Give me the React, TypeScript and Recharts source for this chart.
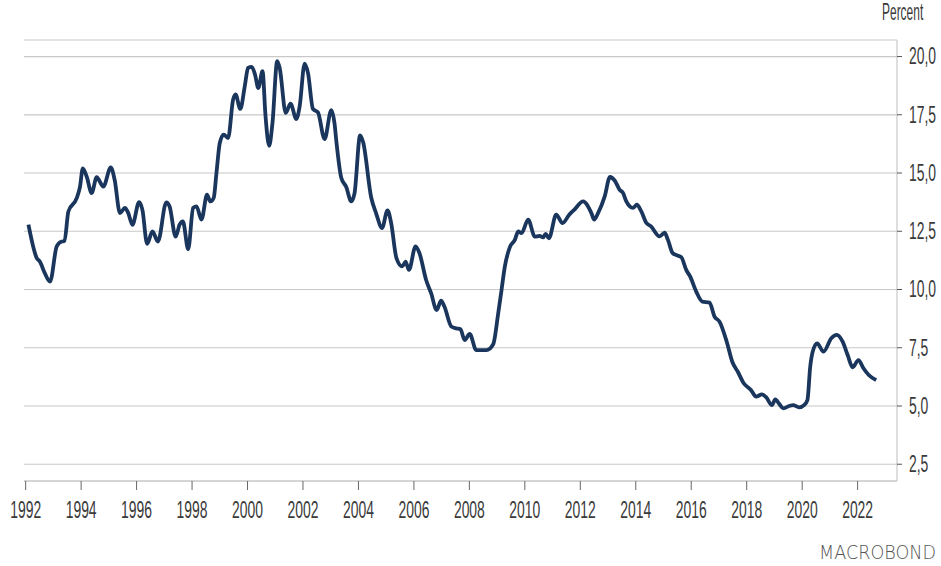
import { LineChart, Line, XAxis, YAxis, CartesianGrid } from 'recharts';

// decimal years and rate in percent
const years = [
  1992.1, 1992.4, 1992.51, 1992.69, 1992.88, 1993.12, 1993.3, 1993.4, 1993.54, 1993.84,
  1993.96, 1994.06, 1994.2, 1994.38, 1994.56, 1994.8, 1995.07, 1995.21, 1995.4, 1995.58,
  1995.7, 1995.85, 1996.09, 1996.21, 1996.38, 1996.57, 1996.77, 1997.07, 1997.19, 1997.41,
  1997.55, 1997.67, 1997.86, 1998.04, 1998.16, 1998.34, 1998.54, 1998.66, 1998.78, 1998.88,
  1999.0, 1999.14, 1999.3, 1999.48, 1999.57, 1999.74, 1999.9, 2000.02, 2000.15, 2000.27,
  2000.39, 2000.54, 2000.65, 2000.78, 2000.9, 2001.07, 2001.16, 2001.38, 2001.55, 2001.76,
  2001.88, 2002.06, 2002.18, 2002.36, 2002.54, 2002.78, 2003.02, 2003.14, 2003.2, 2003.38,
  2003.56, 2003.74, 2003.86, 2004.06, 2004.17, 2004.46, 2004.64, 2004.85, 2005.05, 2005.18,
  2005.37, 2005.58, 2005.7, 2005.82, 2006.06, 2006.2, 2006.44, 2006.62, 2006.82, 2006.98,
  2007.1, 2007.35, 2007.53, 2007.68, 2007.83, 2008.01, 2008.25, 2008.62, 2008.86, 2009.04,
  2009.16, 2009.28, 2009.46, 2009.64, 2009.76, 2009.88, 2010.12, 2010.36, 2010.53, 2010.66,
  2010.75, 2010.87, 2011.13, 2011.36, 2011.6, 2011.78, 2012.1, 2012.4, 2012.5, 2012.64,
  2012.88, 2013.07, 2013.24, 2013.42, 2013.54, 2013.66, 2013.9, 2014.04, 2014.2, 2014.37,
  2014.55, 2014.86, 2015.04, 2015.16, 2015.33, 2015.48, 2015.64, 2015.82, 2015.96, 2016.18,
  2016.4, 2016.66, 2016.84, 2017.02, 2017.28, 2017.48, 2017.68, 2017.88, 2018.16, 2018.34,
  2018.55, 2018.7, 2018.91, 2019.03, 2019.18, 2019.32, 2019.53, 2019.67, 2019.89, 2020.07,
  2020.19, 2020.29, 2020.38, 2020.54, 2020.77, 2021.05, 2021.25, 2021.46, 2021.64, 2021.82,
  2022.03, 2022.21, 2022.4, 2022.67,
];

const rates = [
  12.78, 11.35, 11.2, 10.7, 10.34, 11.85, 12.06, 12.08, 13.35, 13.92,
  14.42, 15.2, 14.85, 14.14, 14.82, 14.42, 15.24, 14.7, 13.28, 13.5,
  13.28, 12.78, 13.75, 13.42, 11.96, 12.49, 12.06, 13.74, 13.56, 12.27,
  12.78, 12.92, 11.73, 13.5, 13.57, 13.0, 14.07, 13.78, 13.93, 15.0,
  16.29, 16.65, 16.5, 18.15, 18.37, 17.75, 18.72, 19.51, 19.56, 19.23,
  18.65, 19.37, 17.43, 16.17, 17.15, 19.8, 19.51, 17.58, 17.98, 17.32,
  17.86, 19.7, 19.3, 17.75, 17.6, 16.46, 17.7, 17.1, 16.4, 14.8,
  14.4, 13.78, 14.14, 16.62, 16.32, 13.95, 13.26, 12.64, 13.4, 12.85,
  11.35, 10.99, 11.2, 10.84, 11.85, 11.56, 10.41, 9.84, 9.12, 9.52,
  9.27, 8.41, 8.33, 8.29, 7.83, 8.09, 7.4, 7.4, 7.65, 8.98,
  9.98, 10.99, 11.82, 12.13, 12.49, 12.42, 13.0, 12.27, 12.3, 12.24,
  12.39, 12.2, 13.21, 12.85, 13.21, 13.42, 13.78, 13.28, 13.0, 13.28,
  14.0, 14.83, 14.68, 14.28, 14.15, 13.78, 13.5, 13.64, 13.35, 12.88,
  12.71, 12.28, 12.44, 12.13, 11.56, 11.47, 11.39, 10.84, 10.56, 9.91,
  9.48, 9.44, 8.84, 8.62, 7.76, 6.9, 6.47, 6.0, 5.68, 5.4,
  5.5, 5.38, 5.04, 5.28, 5.08, 4.9, 5.0, 5.04, 4.94, 5.04,
  5.25, 6.68, 7.33, 7.69, 7.33, 7.91, 8.05, 7.76, 7.19, 6.66,
  6.97, 6.62, 6.33, 6.11,
];

const yearTicks = [1992, 1994, 1996, 1998, 2000, 2002, 2004, 2006, 2008, 2010, 2012, 2014, 2016, 2018, 2020, 2022];
const rateTicks = [2.5, 5, 7.5, 10, 12.5, 15, 17.5, 20];

const data = years.map((t, i) => ({ t, v: rates[i] }));

const FONT = '"Liberation Sans", Arial, sans-serif';
const TEXT = '#3a3a3a';

function XTick({ x, y, payload }: any) {
  return (
    <text
      transform={`translate(${x},${y + 17.3}) scale(0.58,1)`}
      textAnchor="middle"
      fontSize={24}
      fontFamily={FONT}
      fill={TEXT}
    >
      {payload.value}
    </text>
  );
}

function YTick({ x, y, payload }: any) {
  return (
    <text
      transform={`translate(${x},${y + 7.8}) scale(0.58,1)`}
      textAnchor="start"
      fontSize={24}
      fontFamily={FONT}
      fill={TEXT}
    >
      {payload.value.toFixed(1).replace('.', ',')}
    </text>
  );
}

export default function App() {
  return (
    <div style={{ position: 'absolute', left: 0, top: 0, width: 941, height: 566, background: '#fff' }}>
      <LineChart
        width={941}
        height={566}
        data={data}
        margin={{ top: 40, right: 0, bottom: 55, left: 24 }}
      >
        <CartesianGrid vertical={false} stroke="#c8c8c8" strokeWidth={1.2} />
        <XAxis
          dataKey="t"
          type="number"
          domain={[1991.94, 2023.42]}
          allowDataOverflow
          ticks={yearTicks}
          interval={0}
          height={30}
          tickSize={9}
          tickMargin={11}
          axisLine={{ stroke: '#c8c8c8', strokeWidth: 1.2 }}
          tickLine={{ stroke: '#666' }}
          tick={<XTick />}
        />
        <YAxis
          orientation="right"
          type="number"
          domain={[1.78, 20.71]}
          allowDataOverflow
          ticks={rateTicks}
          interval={0}
          width={44}
          tickSize={5}
          tickMargin={7}
          axisLine={{ stroke: '#c8c8c8', strokeWidth: 1.2 }}
          tickLine={{ stroke: '#555' }}
          tick={<YTick />}
        />
        <Line
          type="monotone"
          dataKey="v"
          stroke="#1b365d"
          strokeWidth={3.8}
          dot={false}
          isAnimationActive={false}
        />
      </LineChart>
      <svg width={941} height={566} style={{ position: 'absolute', left: 0, top: 0, pointerEvents: 'none' }}>
        <text
          transform="translate(882,20) scale(0.52,1)"
          fontSize={23}
          fontFamily={FONT}
          fill={TEXT}
        >
          Percent
        </text>
        <text
          transform="translate(936,559) scale(0.88,1)"
          textAnchor="end"
          fontSize={20}
          fontFamily='"DejaVu Sans", sans-serif'
          fontWeight={200}
          fill="#555"
        >
          MACROBOND
        </text>
      </svg>
    </div>
  );
}
